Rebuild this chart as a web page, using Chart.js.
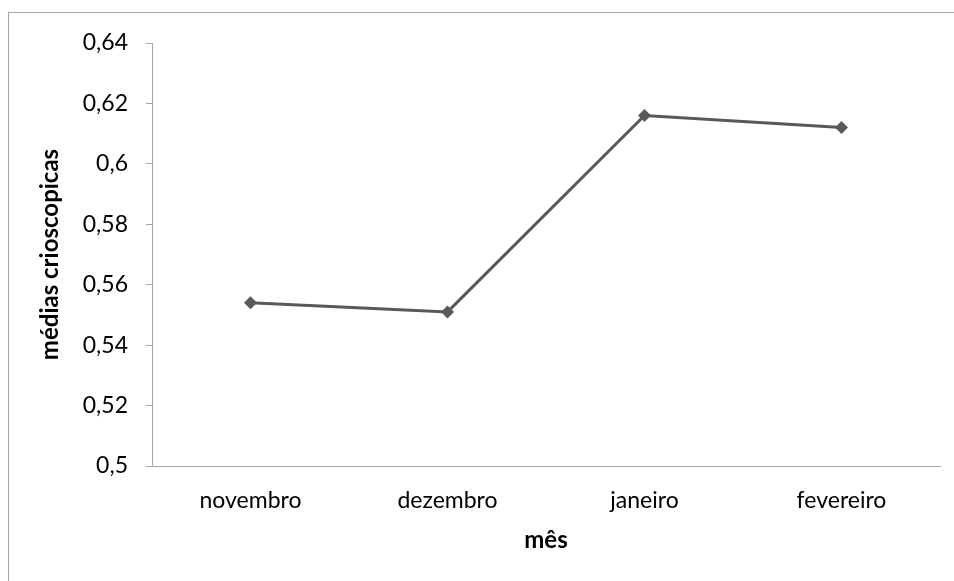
<!DOCTYPE html>
<html>
<head>
<meta charset="utf-8">
<script src="https://cdn.jsdelivr.net/npm/chart.js@4/dist/chart.umd.min.js"></script>
<style>
  html, body { margin: 0; padding: 0; background: #fff; }
  #wrap { width: 954px; height: 581px; position: relative; }
</style>
</head>
<body>
<div id="wrap"><canvas id="crioChart"></canvas></div>
<script>
var meses = ['novembro', 'dezembro', 'janeiro', 'fevereiro'];
var medias = [0.554, 0.551, 0.616, 0.612];

var axisGray = '#a6a6a6';
var lineGray = '#595959';
var fontFamily = 'Lato, "Open Sans", sans-serif';

// light frame around the whole chart
var frame = {
    id: 'frame',
    beforeDraw: function(chart) {
        var ctx = chart.ctx;
        ctx.save();
        ctx.strokeStyle = axisGray;
        ctx.lineWidth = 1;
        ctx.strokeRect(8.5, 12.5, 960, 600);
        ctx.restore();
    }
};

var ctx = document.getElementById('crioChart').getContext('2d');
var chart = new Chart(ctx, {
    type: 'line',
    data: {
        labels: meses,
        datasets: [{
            data: medias,
            borderColor: lineGray,
            backgroundColor: lineGray,
            borderWidth: 3,
            pointStyle: 'rectRot',
            pointRadius: 6.5,
            pointBorderWidth: 0,
            tension: 0
        }]
    },
    options: {
        responsive: true,
        maintainAspectRatio: false,
        animation: false,
        layout: { padding: { top: 43, right: 14, left: 0, bottom: 0 } },
        plugins: {
            legend: { display: false },
            tooltip: { enabled: false }
        },
        scales: {
            x: {
                offset: true,
                afterFit: function(scale) { scale.height = 115; },
                grid: { display: false, drawTicks: false },
                border: { display: true, color: axisGray, width: 1 },
                ticks: {
                    padding: 21,
                    maxRotation: 0,
                    color: '#000',
                    font: { family: fontFamily, size: 23 }
                },
                title: {
                    display: true,
                    text: 'mês',
                    color: '#000',
                    padding: { top: 0, bottom: 26 },
                    font: { family: fontFamily, size: 24, weight: 'bold' }
                }
            },
            y: {
                min: 0.5,
                max: 0.64,
                afterFit: function(scale) { scale.width = 152; },
                grid: { drawOnChartArea: false, drawTicks: true, tickLength: 6, color: axisGray },
                border: { display: true, color: axisGray, width: 1 },
                ticks: {
                    stepSize: 0.02,
                    padding: 18,
                    color: '#000',
                    font: { family: fontFamily, size: 23 },
                    callback: function(v) {
                        return Number(v.toFixed(2)).toString().replace('.', ',');
                    }
                },
                title: {
                    display: true,
                    text: 'médias crioscopicas',
                    color: '#000',
                    padding: { top: 36, bottom: 0 },
                    font: { family: fontFamily, size: 24, weight: 'bold' }
                }
            }
        }
    },
    plugins: [frame]
});
</script>
</body>
</html>
